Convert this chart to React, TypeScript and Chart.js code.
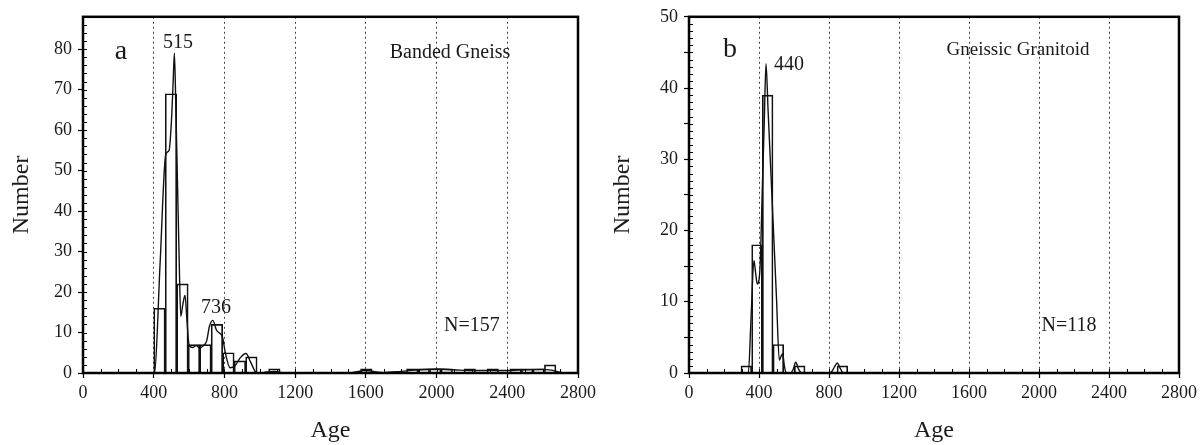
import React, { useEffect, useRef } from 'react';
import { Chart, registerables } from 'chart.js';

Chart.register(...registerables);

const SERIF = '"Liberation Serif", "Times New Roman", serif';
const INK = '#1a1a1a';

// ---- shared axis ----
const xTickLabels = ['0', '400', '800', '1200', '1600', '2000', '2400', '2800'];

// ---- panel a: Banded Gneiss ----
const binStartA = 400;
const binWidthA = 65;
const countsA = [16, 69, 22, 7, 7, 12, 5, 3, 4, 0, 1, 0, 0, 0, 0, 0, 0, 0, 1, 0, 0, 0, 1, 1, 1, 1, 0, 1, 0, 1, 0, 1, 1, 1, 2, 0];
const curveAgesA = [380, 405, 436, 468, 487, 500, 510, 517, 525, 535, 545, 553, 565, 577, 588, 600, 620, 640, 660, 680, 700, 715, 734, 756, 789, 805, 832, 860, 890, 922, 950, 983, 1020, 1080, 1140, 1500, 1600, 1700, 1800, 1900, 2000, 2100, 2200, 2300, 2400, 2500, 2600, 2650, 2720, 2800];
const curveValuesA = [0, 0.2, 27, 54, 55, 62, 72, 79, 66, 46, 26, 14, 17, 19.2, 13, 7, 6.3, 6.8, 6.2, 6.7, 8, 11.5, 13, 10.5, 8.9, 5, 1.3, 1.8, 3.8, 4.8, 2.5, 0, 0.1, 0.4, 0, 0, 0.6, 0.1, 0.4, 0.8, 1.0, 0.8, 0.6, 0.6, 0.6, 0.8, 0.9, 0.7, 0, 0];
const labelsA = [
  { text: 'a', age: 215, value: 79.4, size: 28 },
  { text: '515', age: 537, value: 81.6, size: 20 },
  { text: '736', age: 752, value: 16.1, size: 20 },
  { text: 'Banded Gneiss', age: 2076, value: 79.0, size: 20 },
  { text: 'N=157', age: 2200, value: 11.7, size: 20 },
];

// ---- panel b: Gneissic Granitoid ----
const binStartB = 297;
const binWidthB = 61;
const countsB = [1, 18, 39, 4, 0, 1, 0, 0, 0, 1];
const curveAgesB = [300, 339, 355, 371, 381, 390, 405, 420, 430, 440, 452, 463, 480, 500, 516, 527, 535, 545, 554, 580, 595, 610, 625, 644, 800, 816, 832, 847, 865, 882, 920, 2800];
const curveValuesB = [0, 0, 8, 15.8, 14, 12.5, 14.4, 26.8, 35.1, 43.4, 36.8, 30.8, 21.5, 10.5, 1.8, 2.4, 2.7, 1.0, 0.1, 0, 0.5, 1.5, 0.6, 0, 0, 0.2, 0.9, 1.4, 0.6, 0, 0, 0];
const labelsB = [
  { text: 'b', age: 234, value: 45.4, size: 28 },
  { text: '440', age: 571, value: 43.3, size: 20 },
  { text: 'Gneissic Granitoid', age: 1880, value: 45.3, size: 19 },
  { text: 'N=118', age: 2171, value: 6.7, size: 20 },
];

type PanelDef = {
  id: string;
  binStart: number;
  binWidth: number;
  counts: number[];
  ages: number[];
  values: number[];
  labels: { text: string; age: number; value: number; size: number }[];
  yMax: number;
  yStep: number;
  yLabelEvery: number;
  yMinor: number;
  yScaleWidth: number;
  padRight: number;
  yTitlePad: number;
};

const panelA: PanelDef = {
  id: 'a', binStart: binStartA, binWidth: binWidthA, counts: countsA,
  ages: curveAgesA, values: curveValuesA, labels: labelsA,
  yMax: 88, yStep: 10, yLabelEvery: 10, yMinor: 2, yScaleWidth: 83, padRight: 22, yTitlePad: 7,
};
const panelB: PanelDef = {
  id: 'b', binStart: binStartB, binWidth: binWidthB, counts: countsB,
  ages: curveAgesB, values: curveValuesB, labels: labelsB,
  yMax: 50, yStep: 5, yLabelEvery: 10, yMinor: 1, yScaleWidth: 89, padRight: 23, yTitlePad: 8,
};

function decorPlugin(p: PanelDef) {
  return {
    id: 'decor_' + p.id,
    afterDatasetsDraw(chart: any) {
      const { ctx, chartArea: ca } = chart;
      const x = chart.scales.x;
      const y = chart.scales.y;
      ctx.save();
      ctx.strokeStyle = '#000';
      ctx.lineWidth = 1;
      ctx.beginPath();
      for (let v = 100; v < 2800; v += 100) {
        const px = Math.round(x.getPixelForValue(v)) + 0.5;
        ctx.moveTo(px, ca.bottom);
        ctx.lineTo(px, ca.bottom - 4);
      }
      for (let v = p.yMinor; v < p.yMax; v += p.yMinor) {
        const py = Math.round(y.getPixelForValue(v)) + 0.5;
        ctx.moveTo(ca.left, py);
        ctx.lineTo(ca.left + 4, py);
      }
      ctx.stroke();
      ctx.lineWidth = 2.5;
      ctx.strokeRect(ca.left, ca.top, ca.right - ca.left, ca.bottom - ca.top);
      ctx.fillStyle = INK;
      ctx.textAlign = 'center';
      ctx.textBaseline = 'middle';
      for (const l of p.labels) {
        ctx.font = `${l.size}px ${SERIF}`;
        ctx.fillText(l.text, x.getPixelForValue(l.age), y.getPixelForValue(l.value));
      }
      ctx.restore();
    },
  };
}

function buildConfig(p: PanelDef): any {
  const bars = p.counts.map((c, i) => ({ x: p.binStart + p.binWidth * (i + 0.5), y: c }));
  const curve = p.ages.map((a, i) => ({ x: a, y: p.values[i] }));
  return {
    type: 'bar',
    data: {
      datasets: [
        {
          type: 'line',
          data: curve,
          borderColor: '#111',
          borderWidth: 1.4,
          pointRadius: 0,
          fill: false,
          cubicInterpolationMode: 'monotone',
          order: 0,
        },
        {
          type: 'bar',
          data: bars,
          backgroundColor: 'rgba(0,0,0,0)',
          borderColor: '#111',
          borderWidth: 1,
          barPercentage: 1,
          categoryPercentage: 1,
          order: 1,
        },
      ],
    },
    options: {
      responsive: false,
      animation: false,
      devicePixelRatio: 1,
      layout: { padding: { left: 0, right: p.padRight, top: 14, bottom: 0 } },
      plugins: { legend: { display: false }, tooltip: { enabled: false } },
      scales: {
        x: {
          type: 'linear',
          min: 0,
          max: 2800,
          offset: false,
          grid: {
            offset: false,
            color: (c: any) => (c.tick && (c.tick.value === 0 || c.tick.value === 2800) ? 'rgba(0,0,0,0)' : '#444'),
            lineWidth: 1,
            tickLength: 5,
            tickColor: '#000',
            tickWidth: 1.2,
          },
          border: { display: false, dash: [2, 3] },
          ticks: {
            stepSize: 400,
            autoSkip: false,
            maxRotation: 0,
            color: INK,
            padding: 4,
            font: { family: SERIF, size: 18 },
            callback: (_v: any, i: number) => xTickLabels[i],
          },
          title: {
            display: true,
            text: 'Age',
            color: INK,
            font: { family: SERIF, size: 24 },
            padding: { top: 0, bottom: 0 },
          },
          afterFit: (s: any) => { s.height = 72; },
        },
        y: {
          type: 'linear',
          min: 0,
          max: p.yMax,
          grid: { drawOnChartArea: false, tickLength: 5, tickColor: '#000', tickWidth: 1.2 },
          border: { display: false },
          ticks: {
            stepSize: p.yStep,
            includeBounds: false,
            autoSkip: false,
            color: INK,
            padding: 6,
            font: { family: SERIF, size: 18 },
            callback: (v: any) => (v % p.yLabelEvery === 0 ? String(v) : ''),
          },
          title: {
            display: true,
            text: 'Number',
            color: INK,
            font: { family: SERIF, size: 24 },
            padding: { top: p.yTitlePad, bottom: 0 },
          },
          afterFit: (s: any) => { s.width = p.yScaleWidth; },
        },
      },
    },
    plugins: [decorPlugin(p)],
  };
}

function Panel({ def, left, width }: { def: PanelDef; left: number; width: number }) {
  const ref = useRef<HTMLCanvasElement>(null);
  useEffect(() => {
    const chart = new Chart(ref.current as HTMLCanvasElement, buildConfig(def));
    return () => chart.destroy();
  }, [def]);
  return (
    <canvas
      ref={ref}
      width={width}
      height={445}
      style={{ position: 'absolute', left, top: 0, width, height: 445, display: 'block' }}
    />
  );
}

export default function App() {
  return (
    <div style={{ position: 'absolute', left: 0, top: 0, width: 1202, height: 445, background: '#fff' }}>
      <Panel def={panelA} left={0} width={600} />
      <Panel def={panelB} left={600} width={602} />
    </div>
  );
}
